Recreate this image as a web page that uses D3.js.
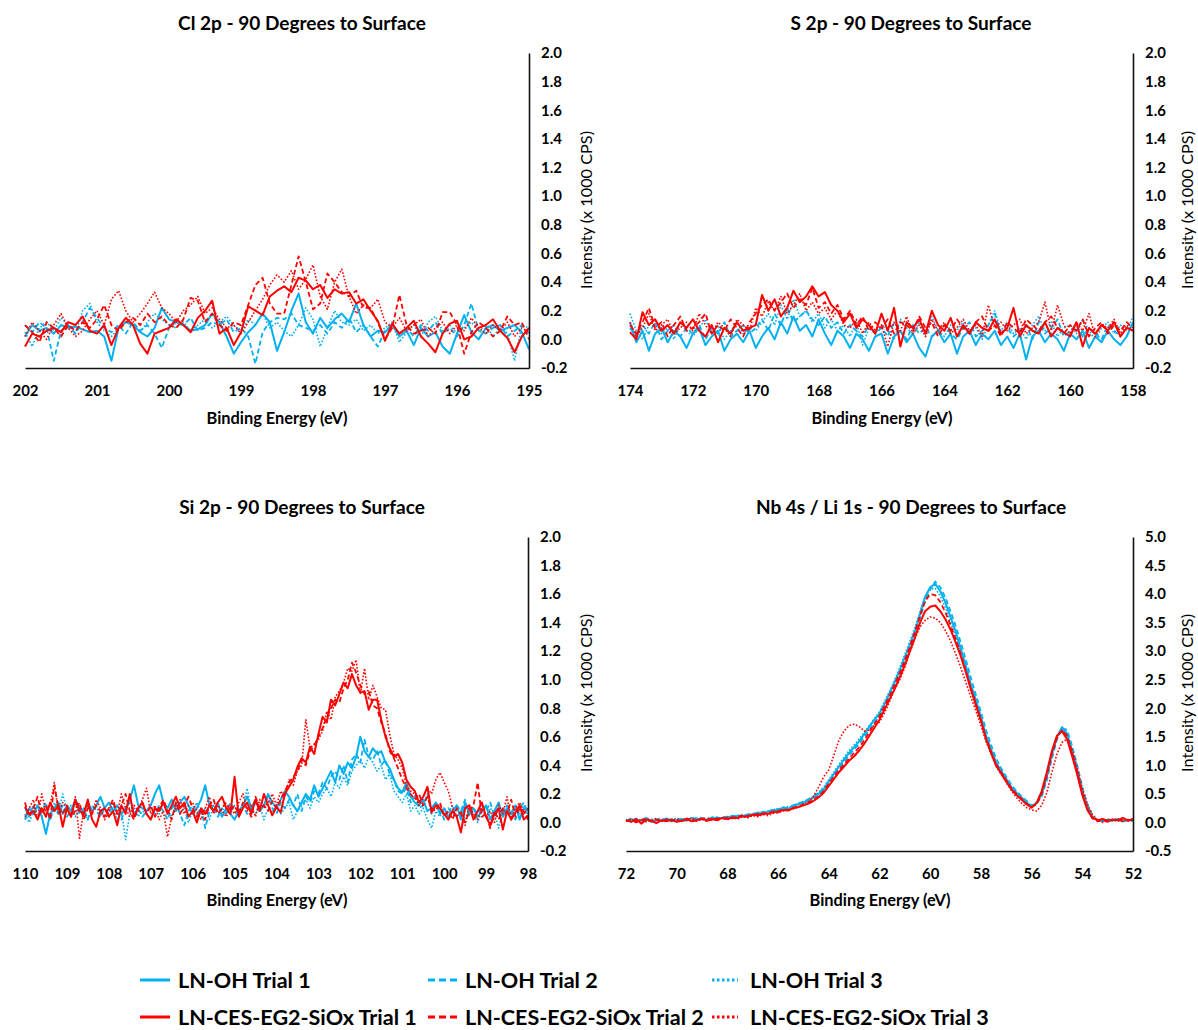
<!DOCTYPE html>
<html><head><meta charset="utf-8">
<script src="https://cdn.jsdelivr.net/npm/d3@7"></script>
<style>
body{margin:0;background:#fff;}
text{font-family:Lato,"Open Sans","Liberation Sans",sans-serif;fill:#000;}
</style></head><body>
<svg id="chart" width="1198" height="1030"></svg>
<script>
// ---------------- DATA ----------------
const seriesNames = ["LN-OH Trial 1","LN-OH Trial 2","LN-OH Trial 3",
  "LN-CES-EG2-SiOx Trial 1","LN-CES-EG2-SiOx Trial 2","LN-CES-EG2-SiOx Trial 3"];

// Cl 2p : 202.0 -> 195.0 eV, step 0.1
const clStart = 202, clStep = 0.1, clCount = 71;
const clBlue1 = [0.02,0.10,0.06,0.08,0.04,0.10,0.08,0.09,0.07,0.05,
0.06,0.02,-0.15,0.08,0.12,0.10,0.05,0.02,0.08,0.22,
0.14,0.12,0.10,0.06,0.07,0.10,0.18,0.12,0.02,-0.10,
-0.02,0.05,0.10,0.18,0.12,-0.08,0.05,0.20,0.32,0.12,
0.04,0.15,0.08,0.14,0.18,0.12,0.25,0.10,0.02,0.06,
0.05,0.10,0.02,0.06,-0.04,0.08,0.02,0.05,-0.05,-0.10,
0.04,0.17,0.05,0.00,0.08,0.10,0.06,0.08,0.10,0.05,
-0.07];
const clBlue2 = [0.10,0.05,0.12,0.08,-0.15,0.06,0.10,0.04,0.12,0.22,
0.15,0.08,0.05,0.10,0.04,0.12,0.06,0.10,0.04,-0.06,
0.08,0.12,0.10,0.15,0.06,0.08,0.12,0.10,0.14,0.05,
0.08,0.02,-0.17,0.05,0.12,0.15,0.14,0.18,0.10,0.08,
0.06,0.10,0.04,0.12,0.08,0.15,0.05,0.10,0.02,-0.05,
0.06,0.10,0.04,0.08,0.02,0.10,0.06,0.12,0.04,0.08,
0.02,0.10,0.25,0.06,0.04,0.08,0.10,0.02,0.06,0.10,
0.04];
const clBlue3 = [0.05,-0.05,0.08,0.12,0.06,0.15,0.10,0.04,0.20,0.25,
0.12,0.06,0.02,0.08,0.15,0.10,0.05,0.12,0.18,0.14,
0.10,0.08,0.12,0.06,0.10,0.14,0.08,0.12,0.16,0.10,
0.06,0.14,0.10,0.18,0.08,0.12,0.06,0.02,0.10,0.22,
0.14,-0.05,0.08,0.20,0.12,0.10,0.14,0.06,0.10,0.04,
0.08,0.12,-0.02,0.05,0.10,0.02,0.12,0.16,0.06,0.10,
0.04,0.08,0.12,0.06,0.10,0.02,0.08,0.04,-0.15,0.10,
0.08];
const clRed1 = [-0.05,0.04,0.02,0.06,0.08,0.05,0.12,0.10,0.16,0.06,
0.04,0.10,-0.04,0.08,0.15,0.10,-0.03,-0.10,0.04,0.06,
0.08,0.14,0.10,0.05,0.15,0.20,0.27,0.04,0.08,-0.04,
0.05,0.23,0.20,0.17,0.30,0.34,0.37,0.33,0.43,0.41,
0.35,0.38,0.29,0.35,0.32,0.33,0.25,0.28,0.20,0.13,
-0.01,0.11,0.04,0.08,0.13,0.02,-0.03,-0.09,0.04,0.11,
0.13,0.00,0.02,0.08,0.10,0.14,0.06,0.01,-0.09,0.02,
0.08];
const clRed2 = [0.10,0.05,-0.02,0.12,0.08,0.02,0.10,0.06,0.12,0.08,
0.14,0.24,0.10,0.06,0.12,0.15,0.10,0.18,0.12,0.16,
0.10,0.08,0.14,0.29,0.27,0.12,0.18,0.10,0.06,0.12,
0.10,0.24,0.38,0.43,0.25,0.18,0.18,0.38,0.58,0.40,
0.21,0.25,0.46,0.40,0.33,0.30,0.34,0.22,0.22,0.12,
0.00,0.08,0.31,0.10,0.04,0.06,0.08,0.04,0.19,0.19,
0.10,-0.10,0.05,0.12,0.08,0.02,0.06,0.16,0.10,0.12,
0.00];
const clRed3 = [0.02,0.12,0.06,0.00,0.10,0.18,0.08,0.02,0.06,0.14,
0.20,0.10,0.28,0.34,0.20,0.12,0.18,0.25,0.33,0.22,
0.18,0.12,0.20,0.24,0.30,0.18,0.22,0.14,0.08,0.10,
0.04,0.12,0.20,0.28,0.38,0.45,0.40,0.48,0.35,0.42,
0.52,0.30,0.21,0.40,0.49,0.30,0.18,0.24,0.22,0.28,
0.12,0.08,0.15,0.06,0.10,0.14,0.02,0.08,0.12,0.04,
0.10,0.06,0.15,0.08,0.04,0.10,0.06,0.12,0.02,0.08,
0.05];

// S 2p : 174.0 -> 158.0 eV, step 0.2
const sStart = 174, sStep = 0.2, sCount = 81;
const sBlue1 = [0.12,-0.02,0.06,-0.08,0.04,0.08,-0.02,0.06,0.02,-0.06,
0.04,0.08,-0.04,0.02,0.06,-0.08,0.00,0.04,-0.02,0.06,
-0.06,0.02,0.08,0.00,0.12,0.04,0.16,0.06,0.10,0.02,
0.14,0.04,-0.04,0.06,0.02,-0.06,0.04,0.00,-0.08,0.02,
0.04,-0.10,0.02,0.06,-0.02,0.04,-0.06,-0.12,0.02,0.06,
-0.02,0.04,-0.10,0.02,0.06,-0.04,0.04,0.00,0.06,-0.04,
0.02,-0.06,0.04,-0.14,0.02,0.06,-0.02,0.04,0.00,-0.08,
0.04,0.00,0.06,-0.06,0.02,-0.02,0.06,0.00,-0.04,0.02,
0.12];
const sBlue2 = [0.08,0.02,0.10,0.04,0.12,0.00,0.06,0.10,0.02,0.08,
0.04,0.10,0.00,0.08,0.04,0.12,0.02,0.06,0.10,0.04,
0.08,0.14,0.06,0.18,0.10,0.22,0.12,0.16,0.20,0.14,
0.10,0.16,0.08,0.12,0.04,0.10,0.06,0.02,0.10,0.04,
0.08,0.02,0.12,0.06,0.00,0.10,0.04,0.08,0.02,0.06,
0.10,0.04,0.00,0.08,0.12,0.02,0.06,0.10,0.18,0.04,
0.08,0.02,0.06,0.10,0.00,0.12,0.04,0.08,0.14,0.02,
0.06,0.10,0.02,0.08,0.04,0.00,0.10,0.06,0.02,0.08,
0.10];
const sBlue3 = [0.18,0.06,0.00,0.10,0.14,0.04,0.08,0.00,0.12,0.06,
0.02,0.08,0.14,0.04,0.10,0.00,0.06,0.12,0.04,0.08,
0.06,0.12,0.18,0.10,0.24,0.14,0.28,0.16,0.20,0.12,
0.18,0.08,0.14,0.06,0.10,0.02,0.12,-0.04,0.08,0.04,
0.10,0.06,0.00,0.14,0.08,0.04,0.12,0.02,0.16,0.06,
0.02,0.10,0.06,0.12,0.04,0.08,0.00,0.10,0.20,0.06,
0.12,0.04,0.08,0.00,0.10,0.16,0.06,0.12,0.02,0.08,
0.10,0.04,0.14,0.06,0.00,0.08,0.12,0.04,0.10,0.06,
0.16];
const sRed1 = [0.05,0.00,0.19,0.10,0.14,0.06,0.10,0.04,0.12,0.08,
0.14,0.06,0.02,0.10,-0.02,0.08,0.04,0.12,0.06,0.08,
0.10,0.31,0.20,0.28,0.16,0.22,0.34,0.26,0.30,0.37,
0.30,0.33,0.24,0.20,0.12,0.18,0.08,0.14,0.10,0.04,
0.18,0.06,0.22,-0.05,0.12,0.08,0.14,0.04,0.20,0.10,
0.06,0.15,0.02,0.10,0.04,0.12,0.08,0.06,0.14,0.04,
0.08,0.22,0.02,0.10,0.06,0.04,0.12,0.02,0.08,0.05,
0.02,0.12,-0.05,0.08,0.04,0.10,0.06,0.12,0.02,0.08,
0.06];
const sRed2 = [0.10,0.04,0.12,0.22,0.08,0.12,0.02,0.10,0.16,0.06,
0.08,0.12,0.18,0.04,0.10,0.06,0.14,0.08,0.02,0.12,
0.18,0.24,0.28,0.20,0.26,0.32,0.22,0.28,0.24,0.36,
0.22,0.26,0.18,0.24,0.14,0.20,0.10,0.16,0.06,0.12,
0.08,0.14,0.04,0.12,0.10,0.06,0.16,0.08,0.12,0.02,
0.10,0.06,0.14,0.08,0.04,0.12,0.16,0.06,0.10,0.02,
0.12,0.08,0.04,0.14,0.10,0.06,0.12,0.16,0.08,0.04,
0.10,0.06,0.14,0.02,0.08,0.12,0.04,0.10,0.06,0.12,
0.08];
const sRed3 = [0.12,0.02,0.08,0.18,0.06,0.10,0.14,0.04,0.08,0.12,
0.06,0.18,0.10,0.04,0.12,0.08,0.02,0.14,0.10,0.06,
0.22,0.16,0.26,0.20,0.30,0.18,0.24,0.32,0.20,0.26,
0.18,0.22,0.14,0.20,0.10,0.08,0.14,0.04,0.12,0.06,
0.10,-0.05,0.12,0.06,0.16,0.04,0.10,0.02,0.14,0.06,
0.12,0.04,0.08,0.14,0.06,0.10,0.02,0.24,0.08,0.12,
0.06,0.10,0.14,0.04,0.08,0.12,0.26,0.06,0.24,0.10,
0.04,0.12,0.06,0.18,0.02,0.10,0.08,0.14,0.04,0.10,
0.06];

// Si 2p : 110.0 -> 98.0 eV, step 0.1
const siStart = 110, siStep = 0.1, siCount = 121;
const siBlue1 = [0.02,0.10,0.06,0.12,0.04,-0.08,0.06,0.10,0.14,0.06,
0.12,0.08,0.16,0.10,0.06,0.14,0.08,0.12,0.18,0.10,
0.14,0.08,0.12,0.06,0.10,0.16,0.26,0.12,0.10,0.08,
0.12,0.20,0.26,0.14,0.10,0.16,0.08,0.14,0.18,0.12,
0.06,0.10,0.16,0.26,0.12,0.08,0.14,0.04,0.10,0.06,
0.02,0.08,0.12,0.18,0.10,0.16,0.08,0.12,0.20,0.14,
0.10,0.16,0.22,0.18,0.12,0.08,0.14,0.20,0.16,0.26,
0.18,0.24,0.30,0.36,0.28,0.40,0.34,0.42,0.38,0.46,
0.60,0.50,0.46,0.52,0.48,0.50,0.42,0.38,0.30,0.24,
0.21,0.28,0.18,0.14,0.12,0.16,0.08,0.10,0.14,0.06,
0.10,0.04,0.08,0.12,0.02,0.14,0.06,0.10,0.04,0.08,
0.12,0.02,0.08,0.14,0.04,0.10,0.06,0.12,0.02,0.10,
0.08];
const siBlue2 = [0.10,0.04,0.12,0.06,0.08,0.14,0.02,0.10,0.06,0.12,
0.04,0.08,0.14,0.06,0.10,0.02,0.12,0.08,0.04,0.10,
0.06,0.12,0.08,0.02,0.10,0.14,0.06,0.10,0.04,0.08,
0.10,0.06,0.12,0.08,0.02,0.10,0.14,0.06,-0.02,0.08,
0.12,0.06,0.10,-0.04,0.08,0.12,0.04,0.10,0.06,0.14,
0.08,0.04,0.12,0.06,0.10,0.14,0.08,0.12,0.18,0.10,
0.06,0.14,0.10,0.16,0.12,0.20,0.08,0.18,0.14,0.22,
0.20,0.28,0.24,0.32,0.36,0.30,0.40,0.28,0.44,0.48,
0.42,0.58,0.46,0.44,0.50,0.40,0.44,0.34,0.30,0.22,
0.20,0.24,0.14,0.18,0.10,0.12,0.20,0.06,0.14,0.10,
0.02,0.10,0.06,0.12,0.08,0.16,0.04,0.10,0.06,0.12,
0.08,0.14,0.04,0.10,0.06,0.12,0.08,0.02,0.10,0.14,
0.06];
const siBlue3 = [0.06,0.00,0.08,0.12,0.04,0.10,0.02,0.14,0.06,0.20,
0.08,0.12,0.04,0.10,0.06,0.02,0.08,0.12,0.04,0.10,
0.06,0.10,0.02,0.08,-0.12,0.06,0.10,0.04,0.08,0.06,
0.02,0.10,0.06,0.14,0.08,0.04,0.12,0.06,0.10,0.00,
0.08,0.14,0.06,0.10,0.02,0.12,0.08,0.04,0.10,0.06,
0.12,0.04,0.10,0.24,0.08,0.06,0.12,0.02,0.10,0.08,
0.12,0.06,0.10,0.14,0.02,0.08,0.12,0.16,0.10,0.18,
0.14,0.20,0.24,0.18,0.28,0.24,0.32,0.26,0.36,0.40,
0.44,0.38,0.46,0.42,0.36,0.40,0.30,0.34,0.22,0.18,
0.14,0.20,0.08,0.12,0.06,0.10,0.02,-0.04,0.08,0.04,
0.10,0.06,0.12,0.04,0.08,0.02,0.10,0.06,0.00,0.08,
0.04,0.10,0.06,-0.04,0.08,0.12,0.04,0.10,0.06,0.12,
0.04];
const siRed1 = [0.11,0.06,0.08,0.02,0.10,0.04,0.14,0.08,0.12,-0.03,
0.10,0.04,0.16,0.08,0.06,0.16,0.02,-0.03,0.08,0.10,
0.04,0.08,-0.02,0.12,0.06,0.20,0.04,0.10,0.14,0.06,
0.02,0.10,0.08,0.14,0.06,0.12,0.18,0.10,0.14,0.04,
0.08,0.00,0.10,0.06,0.12,0.08,0.14,0.18,0.10,0.06,
0.32,0.04,0.10,0.14,0.06,0.16,0.08,0.20,0.12,0.05,
0.11,0.07,0.20,0.25,0.30,0.39,0.45,0.42,0.53,0.48,
0.62,0.74,0.70,0.86,0.82,0.90,0.98,0.94,1.04,0.96,
0.91,0.92,0.79,0.86,0.86,0.72,0.60,0.52,0.46,0.48,
0.42,0.30,0.25,0.22,0.14,0.18,0.25,0.07,0.12,0.10,
0.06,0.02,0.08,0.04,-0.07,0.10,0.12,0.02,0.08,0.14,
0.04,-0.02,0.06,0.10,-0.05,0.08,0.02,0.07,0.12,0.02,
0.05];
const siRed2 = [0.14,0.04,0.10,0.18,0.06,0.12,0.02,0.26,0.10,0.06,
0.12,0.04,0.08,0.14,0.02,0.10,0.06,0.12,0.08,0.04,
0.10,0.16,0.06,0.12,0.20,0.08,0.02,0.10,0.14,0.06,
0.12,0.04,0.10,0.16,0.08,0.02,0.14,0.06,0.12,0.18,
0.10,0.04,0.08,0.02,0.12,0.16,0.06,0.10,0.14,0.08,
0.12,0.06,0.14,0.10,0.04,0.18,0.10,0.12,0.08,0.15,
0.10,0.16,0.22,0.28,0.32,0.36,0.44,0.40,0.50,0.54,
0.60,0.66,0.74,0.80,0.86,0.84,0.94,1.00,1.12,1.05,
0.96,0.90,0.92,0.82,0.80,0.70,0.62,0.50,0.45,0.38,
0.30,0.24,0.20,0.16,0.20,0.12,0.18,0.10,0.08,0.14,
0.04,0.08,0.02,0.10,0.06,0.00,0.08,0.12,0.28,0.04,
0.06,-0.04,0.08,0.02,0.10,0.06,0.16,0.04,0.10,0.08,
0.02];
const siRed3 = [0.04,0.10,0.16,0.02,0.20,0.08,0.12,0.28,0.06,0.14,
0.10,0.04,0.18,-0.11,0.08,0.12,0.06,0.16,0.10,0.02,
0.08,0.14,0.06,0.20,0.10,0.04,0.12,0.08,0.16,0.24,
0.06,0.12,0.02,0.08,-0.10,0.04,0.10,0.16,0.06,0.12,
0.14,0.08,0.02,0.10,0.18,0.06,0.12,0.08,0.04,0.10,
0.06,0.14,0.20,0.08,0.12,0.04,0.16,0.10,0.14,0.20,
0.12,0.22,0.18,0.30,0.26,0.36,0.40,0.72,0.52,0.55,
0.58,0.64,0.78,0.72,0.88,0.92,0.98,1.08,1.06,1.14,
0.90,1.08,0.86,0.96,0.88,0.80,0.79,0.62,0.48,0.44,
0.38,0.26,0.22,0.20,0.12,0.18,0.24,0.20,0.30,0.35,
0.28,0.22,0.10,0.04,0.08,-0.02,0.12,0.06,0.02,0.10,
0.04,0.08,0.00,0.12,0.06,0.18,0.02,0.10,0.14,0.06,
0.10];

// Nb 4s / Li 1s : 72.0 -> 52.0 eV, step 0.2
const nbStart = 72, nbStep = 0.2, nbCount = 101;
const nbBlue1 = [0.03,0.06,0.01,0.04,0.08,0.02,0.05,0.03,0.07,0.02,
0.04,0.06,0.03,0.08,0.05,0.07,0.04,0.09,0.06,0.08,
0.10,0.08,0.12,0.10,0.14,0.13,0.17,0.15,0.19,0.22,
0.21,0.26,0.24,0.29,0.32,0.35,0.38,0.44,0.50,0.58,
0.72,0.85,0.98,1.10,1.22,1.32,1.42,1.55,1.68,1.80,
1.91,2.08,2.27,2.46,2.67,2.90,3.12,3.35,3.65,3.95,
4.12,4.18,4.05,3.85,3.60,3.35,3.05,2.75,2.42,2.15,
1.85,1.52,1.28,1.05,0.90,0.76,0.62,0.52,0.44,0.35,
0.28,0.34,0.50,0.80,1.20,1.50,1.67,1.55,1.25,0.92,
0.55,0.28,0.10,0.04,0.02,0.05,0.03,0.06,0.02,0.04,0.05];
const nbBlue2 = [0.05,0.02,0.07,0.03,0.06,0.01,0.05,0.08,0.03,0.06,
0.02,0.07,0.05,0.04,0.09,0.06,0.05,0.08,0.07,0.10,
0.09,0.12,0.10,0.14,0.12,0.16,0.15,0.19,0.18,0.21,
0.24,0.23,0.28,0.30,0.34,0.36,0.41,0.46,0.52,0.60,
0.70,0.82,0.95,1.06,1.18,1.28,1.38,1.50,1.62,1.75,
1.86,2.02,2.20,2.40,2.60,2.84,3.06,3.30,3.58,3.88,
4.08,4.22,4.12,3.94,3.70,3.45,3.16,2.86,2.54,2.24,
1.94,1.62,1.36,1.12,0.95,0.80,0.66,0.55,0.46,0.38,
0.30,0.33,0.46,0.74,1.12,1.45,1.65,1.62,1.34,1.00,
0.62,0.32,0.12,0.03,0.05,0.02,0.04,0.06,0.03,0.05,0.02];
const nbBlue3 = [0.04,0.07,0.03,0.05,0.02,0.06,0.04,0.02,0.06,0.05,
0.08,0.04,0.06,0.03,0.07,0.09,0.06,0.05,0.10,0.07,
0.11,0.09,0.13,0.11,0.15,0.14,0.18,0.16,0.20,0.23,
0.22,0.27,0.25,0.30,0.33,0.37,0.40,0.46,0.53,0.62,
0.75,0.88,1.02,1.14,1.26,1.36,1.46,1.58,1.70,1.82,
1.94,2.12,2.30,2.50,2.72,2.94,3.18,3.42,3.70,3.96,
4.08,4.10,3.96,3.76,3.52,3.26,2.98,2.68,2.36,2.08,
1.80,1.48,1.24,1.02,0.88,0.74,0.60,0.50,0.42,0.34,
0.27,0.36,0.54,0.84,1.22,1.50,1.64,1.50,1.20,0.86,
0.50,0.24,0.08,0.05,0.03,0.06,0.04,0.02,0.05,0.03,0.06];
const nbRed1 = [0.04,0.01,0.06,-0.02,0.05,0.03,-0.01,0.04,0.02,0.05,
0.01,0.03,0.06,0.02,0.04,0.07,0.03,0.06,0.04,0.08,
0.06,0.09,0.08,0.11,0.10,0.14,0.12,0.16,0.15,0.19,
0.18,0.22,0.21,0.25,0.27,0.30,0.33,0.38,0.44,0.52,
0.64,0.76,0.88,0.98,1.08,1.16,1.26,1.38,1.52,1.66,
1.80,1.98,2.16,2.34,2.54,2.76,3.00,3.24,3.50,3.70,
3.78,3.80,3.70,3.56,3.38,3.16,2.92,2.64,2.34,2.06,
1.78,1.46,1.22,1.00,0.86,0.72,0.58,0.48,0.40,0.32,
0.26,0.34,0.55,0.88,1.25,1.52,1.60,1.46,1.16,0.84,
0.48,0.22,0.08,0.04,0.06,0.03,0.05,0.04,0.08,0.03,0.06];
const nbRed2 = [0.02,0.05,0.00,0.04,0.07,0.02,0.05,0.01,0.06,0.03,
0.05,0.02,0.07,0.04,0.03,0.06,0.08,0.04,0.07,0.06,
0.09,0.07,0.10,0.12,0.11,0.13,0.15,0.14,0.18,0.17,
0.20,0.23,0.22,0.26,0.28,0.32,0.35,0.40,0.46,0.55,
0.68,0.80,0.92,1.02,1.12,1.22,1.32,1.44,1.58,1.72,
1.86,2.04,2.22,2.42,2.62,2.84,3.08,3.34,3.62,3.88,
4.00,3.98,3.86,3.68,3.46,3.22,2.96,2.66,2.36,2.08,
1.80,1.48,1.24,1.02,0.88,0.74,0.60,0.50,0.42,0.33,
0.27,0.32,0.50,0.82,1.20,1.48,1.62,1.52,1.22,0.88,
0.52,0.24,0.07,0.02,0.05,0.01,0.04,0.06,0.02,0.05,0.03];
const nbRed3 = [0.03,0.06,0.02,0.05,0.01,0.04,0.07,0.02,0.05,0.03,
0.06,0.02,0.04,0.08,0.03,0.05,0.02,0.06,0.04,0.07,
0.05,0.08,0.06,0.10,0.08,0.12,0.10,0.14,0.12,0.16,
0.17,0.20,0.22,0.24,0.27,0.30,0.36,0.46,0.62,0.80,
0.92,1.18,1.44,1.60,1.70,1.72,1.68,1.60,1.62,1.70,
1.76,1.92,2.12,2.34,2.50,2.72,2.98,3.22,3.43,3.54,
3.60,3.58,3.50,3.36,3.18,2.96,2.72,2.46,2.20,1.96,
1.70,1.42,1.20,0.98,0.84,0.70,0.56,0.44,0.34,0.26,
0.22,0.20,0.30,0.52,0.88,1.20,1.40,1.46,1.28,0.96,
0.60,0.32,0.14,0.04,0.00,0.03,0.05,0.02,0.06,0.03,0.05];

// tick labels
const clXTicks = [202,201,200,199,198,197,196,195];
const sXTicks = [174,172,170,168,166,164,162,160,158];
const siXTicks = [110,109,108,107,106,105,104,103,102,101,100,99,98];
const nbXTicks = [72,70,68,66,64,62,60,58,56,54,52];
const smallYTicks = [-0.2,0.0,0.2,0.4,0.6,0.8,1.0,1.2,1.4,1.6,1.8,2.0];
const nbYTicks = [-0.5,0.0,0.5,1.0,1.5,2.0,2.5,3.0,3.5,4.0,4.5,5.0];

// ---------------- STYLE / LAYOUT ----------------
const BLUE = "#00B0F0", RED = "#FF0000";
const seriesStyle = [
  {color: BLUE, dash: null, w: 2},
  {color: BLUE, dash: "5,3", w: 1.8},
  {color: BLUE, dash: "1.6,1.8", w: 1.6},
  {color: RED, dash: null, w: 2},
  {color: RED, dash: "5,3", w: 1.8},
  {color: RED, dash: "1.6,1.8", w: 1.6}
];

const svg = d3.select("#chart");
function fitSize(txt, weight, target) {
  const t = svg.append("text").attr("font-size", 20).attr("font-weight", weight).text(txt);
  const w = t.node().getComputedTextLength();
  t.remove();
  return 20 * target / w;
}
const titleFS = fitSize("Cl 2p - 90 Degrees to Surface", "bold", 248);
const xTitleFS = fitSize("Binding Energy (eV)", "bold", 141);
const yTitleFS = fitSize("Intensity (x 1000 CPS)", "normal", 158);
const tickFS = fitSize("202", "bold", 26);
const legendFS = fitSize("LN-CES-EG2-SiOx Trial 1", "bold", 239);

const energies = (start, step, n) => d3.range(n).map(i => +(start - i * step).toFixed(2));
const fmtY = v => (Math.abs(v) < 1e-9 ? 0 : v).toFixed(1);

const panels = [
  {title: "Cl 2p - 90 Degrees to Surface", e: energies(clStart, clStep, clCount),
   series: [clBlue1, clBlue2, clBlue3, clRed1, clRed2, clRed3],
   xDomain: [202, 195], yDomain: [-0.2, 2.0], xTicks: clXTicks, yTicks: smallYTicks,
   xRange: [25, 529], yRange: [368, 53], titlePos: [302, 23], xTitlePos: [277, 418], yTitlePos: [586, 210]},
  {title: "S 2p - 90 Degrees to Surface", e: energies(sStart, sStep, sCount),
   series: [sBlue1, sBlue2, sBlue3, sRed1, sRed2, sRed3],
   xDomain: [174, 158], yDomain: [-0.2, 2.0], xTicks: sXTicks, yTicks: smallYTicks,
   xRange: [630, 1133], yRange: [368, 53], titlePos: [911, 23], xTitlePos: [882, 418], yTitlePos: [1187, 210]},
  {title: "Si 2p - 90 Degrees to Surface", e: energies(siStart, siStep, siCount),
   series: [siBlue1, siBlue2, siBlue3, siRed1, siRed2, siRed3],
   xDomain: [110, 98], yDomain: [-0.2, 2.0], xTicks: siXTicks, yTicks: smallYTicks,
   xRange: [25, 528], yRange: [851, 537], titlePos: [302, 507], xTitlePos: [277, 900], yTitlePos: [586, 693]},
  {title: "Nb 4s / Li 1s - 90 Degrees to Surface", e: energies(nbStart, nbStep, nbCount),
   series: [nbBlue1, nbBlue2, nbBlue3, nbRed1, nbRed2, nbRed3],
   xDomain: [72, 52], yDomain: [-0.5, 5.0], xTicks: nbXTicks, yTicks: nbYTicks,
   xRange: [626, 1133], yRange: [851, 537], titlePos: [911, 507], xTitlePos: [880, 900], yTitlePos: [1187, 693]}
];

panels.forEach(p => {
  const g = svg.append("g");
  const x = d3.scaleLinear().domain(p.xDomain).range(p.xRange);
  const y = d3.scaleLinear().domain(p.yDomain).range(p.yRange);
  const line = d3.line().x((d, i) => x(p.e[i])).y(d => y(d));

  p.series.forEach((vals, si) => {
    const s = seriesStyle[si];
    g.append("path").datum(vals).attr("d", line)
      .attr("fill", "none").attr("stroke", s.color).attr("stroke-width", s.w)
      .attr("stroke-linejoin", "round").attr("stroke-dasharray", s.dash);
  });

  const xa = g.append("g").attr("transform", `translate(0,${p.yRange[0]})`)
    .call(d3.axisBottom(x).tickValues(p.xTicks).tickSize(0).tickSizeOuter(0).tickPadding(17).tickFormat(d3.format("d")));
  const ya = g.append("g").attr("transform", `translate(${p.xRange[1]},0)`)
    .call(d3.axisRight(y).tickValues(p.yTicks).tickSize(0).tickSizeOuter(0).tickPadding(12).tickFormat(fmtY));
  [xa, ya].forEach(a => {
    a.select(".domain").attr("stroke", "#111").attr("stroke-width", 1.6);
    a.selectAll("text").attr("font-size", tickFS).attr("font-weight", "bold")
      .attr("font-family", "Lato,'Open Sans',sans-serif").attr("fill", "#000");
  });

  g.append("text").attr("x", p.titlePos[0]).attr("y", p.titlePos[1]).attr("dy", "0.35em")
    .attr("text-anchor", "middle").attr("font-size", titleFS).attr("font-weight", "bold").text(p.title);
  g.append("text").attr("x", p.xTitlePos[0]).attr("y", p.xTitlePos[1]).attr("dy", "0.35em")
    .attr("text-anchor", "middle").attr("font-size", xTitleFS).attr("font-weight", "bold").text("Binding Energy (eV)");
  g.append("text").attr("transform", `translate(${p.yTitlePos[0]},${p.yTitlePos[1]}) rotate(-90)`).attr("dy", "0.35em")
    .attr("text-anchor", "middle").attr("font-size", yTitleFS).text("Intensity (x 1000 CPS)");
});

// legend
const legX = [140, 428, 712], legLen = [30, 30, 26], legTextX = [178, 465, 750], legY = [980, 1017];
seriesNames.forEach((name, i) => {
  const row = Math.floor(i / 3), col = i % 3, s = seriesStyle[i];
  svg.append("line").attr("x1", legX[col]).attr("x2", legX[col] + legLen[col])
    .attr("y1", legY[row]).attr("y2", legY[row])
    .attr("stroke", s.color).attr("stroke-width", 3).attr("stroke-dasharray", s.dash ? (col === 1 ? "7,4" : "2.5,2.5") : null);
  svg.append("text").attr("x", legTextX[col]).attr("y", legY[row]).attr("dy", "0.35em")
    .attr("font-size", legendFS).attr("font-weight", "bold").text(name);
});
</script>
</body></html>
